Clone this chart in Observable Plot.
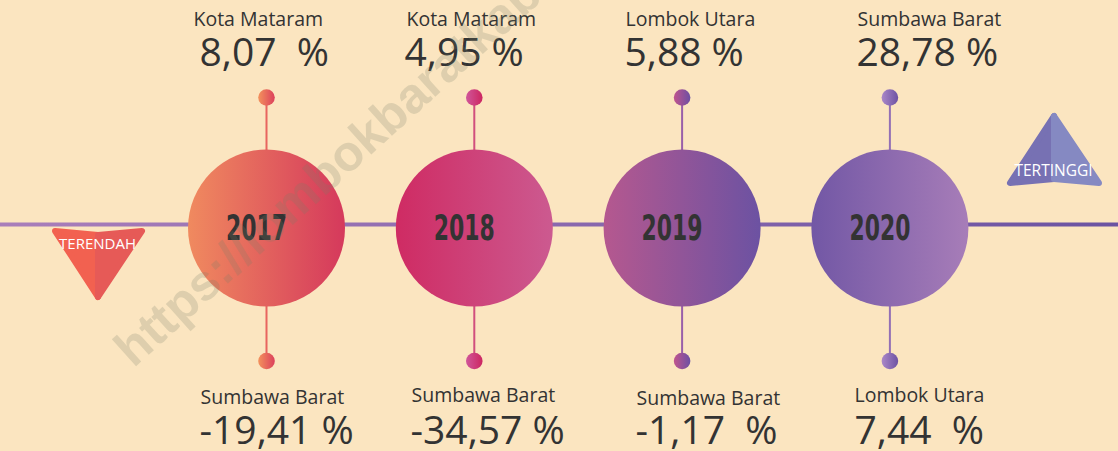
<!DOCTYPE html>
<html><head><meta charset="utf-8">
<script src="https://cdn.jsdelivr.net/npm/d3@7"></script>
<script src="https://cdn.jsdelivr.net/npm/@observablehq/plot@0.6"></script>
<style>
html,body{margin:0;padding:0;background:#fbe5c0;overflow:hidden;}
svg text{white-space:pre;}
</style></head><body><div id="chart"></div>
<script>
// ---------- data ----------
const years = [2017, 2018, 2019, 2020];
const highestRegion = ["Kota Mataram", "Kota Mataram", "Lombok Utara", "Sumbawa Barat"];
const highestValue = [8.07, 4.95, 5.88, 28.78];
const lowestRegion = ["Sumbawa Barat", "Sumbawa Barat", "Sumbawa Barat", "Lombok Utara"];
const lowestValue = [-19.41, -34.57, -1.17, 7.44];
const lowLabel = "TERENDAH";
const highLabel = "TERTINGGI";
const watermark = "https://lombokbaratkab.go.id";

// ---------- layout (pixels) ----------
const W = 1118, H = 451;
const pxPerYear = 207.8;
const x0 = 2017 - 266 / pxPerYear;
const u = 1 / pxPerYear;
const X = px => x0 + px * u;                 // pixel -> x-domain
const topLeft = [193, 406, 625, 857];
const topValLeft = [199, 404, 624, 856];
const botLeft = [200, 411, 636, 854];
const botValLeft = [199, 410, 635, 854];
const botLabelY = [403, 401, 404, 401.5];
const topGap = ["  ", " ", " ", " "];
const botGap = [" ", " ", "  ", "  "];
const stemColor = ["#e8655f", "#d14f7d", "#9a5fa9", "#9470b5"];
const circleGrad = [["#f08a5f", "#d5395c"], ["#cf2b63", "#cc5a90"], ["#b5588f", "#6c52a2"], ["#7257a5", "#a77db8"]];
const dotGrad = [["#f3925c", "#dc405c"], ["#d0569a", "#cc2660"], ["#c0548e", "#6c4fa3"], ["#ab88c8", "#6d52a3"]];
const fmt = v => v.toFixed(2).replace(".", ",");
const sans = "'Open Sans', 'Noto Sans', sans-serif";
const narrow = "'Liberation Sans Narrow', 'DejaVu Sans Condensed', 'Liberation Sans', sans-serif";

const idx = years.map((_, i) => i);

// triangles as two halves (areas)
const downL = [{x: X(55), y1: 231, y2: 231}, {x: X(98), y1: 235, y2: 297}];
const downR = [{x: X(98), y1: 235, y2: 297}, {x: X(142), y1: 231, y2: 231}];
const upL = [{x: X(1010), y1: 183, y2: 183}, {x: X(1054), y1: 116, y2: 179}];
const upR = [{x: X(1054), y1: 116, y2: 179}, {x: X(1099), y1: 183, y2: 183}];

const tri = (data, color) => Plot.areaY(data, {
  x: "x", y1: "y1", y2: "y2", fill: color, stroke: color,
  strokeWidth: 6, strokeLinejoin: "round", curve: "linear"
});

const chart = Plot.plot({
  width: W, height: H,
  margin: 0,
  style: {background: "#fbe5c0", overflow: "visible"},
  x: {type: "linear", domain: [x0, x0 + W * u], range: [0, W], axis: null},
  y: {type: "linear", domain: [0, H], range: [0, H], axis: null},
  color: {type: "identity"},
  marks: [
    Plot.ruleY([224], {stroke: "url(#tlGrad)", strokeWidth: 4}),
    Plot.ruleX(idx, {x: i => years[i], y1: 97, y2: 360, stroke: i => stemColor[i], strokeWidth: 2}),
    Plot.dot(idx, {x: i => years[i], y: 97, r: 8.3, fill: i => `url(#dg${i})`, stroke: null}),
    Plot.dot(idx, {x: i => years[i], y: 360.5, r: 8.3, fill: i => `url(#dg${i})`, stroke: null}),
    Plot.dot(idx, {x: i => years[i], y: 227.5, r: 78.5, fill: i => `url(#cg${i})`, stroke: null}),
    Plot.text(idx, {x: i => years[i], dx: -10, y: 239, text: i => String(years[i]), lineAnchor: "bottom",
      fontSize: 35, fontWeight: 700, fontFamily: narrow, fill: "#333333", className: "yearlbl"}),
    Plot.text(idx, {x: i => X(topLeft[i]), y: 25, text: i => highestRegion[i], textAnchor: "start", lineAnchor: "bottom",
      fontSize: 19.5, fontFamily: sans, fill: "#333333"}),
    Plot.text(idx, {x: i => X(topValLeft[i]), y: 65, text: i => fmt(highestValue[i]) + topGap[i] + "%", textAnchor: "start", lineAnchor: "bottom",
      fontSize: 39, fontFamily: sans, fill: "#333333"}),
    Plot.text(idx, {x: i => X(botLeft[i]), y: i => botLabelY[i], text: i => lowestRegion[i], textAnchor: "start", lineAnchor: "bottom",
      fontSize: 19.5, fontFamily: sans, fill: "#333333"}),
    Plot.text(idx, {x: i => X(botValLeft[i]), y: 443, text: i => fmt(lowestValue[i]) + botGap[i] + "%", textAnchor: "start", lineAnchor: "bottom",
      fontSize: 39, fontFamily: sans, fill: "#333333"}),
    tri(downL, "#f26150"), tri(downR, "#e65a57"),
    tri(upL, "#7771b3"), tri(upR, "#8589c2"),
    Plot.text([lowLabel], {x: X(97), y: 248.5, text: d => d, lineAnchor: "bottom", fontSize: 15, fontFamily: sans, fill: "white"}),
    Plot.text([highLabel], {x: X(1053), y: 175, text: d => d, lineAnchor: "bottom", fontSize: 15.5, fontFamily: sans, fill: "white"}),
    Plot.text([watermark], {x: X(133), y: 368, text: d => d, rotate: -42, textAnchor: "start", lineAnchor: "bottom",
      fontSize: 50, fontWeight: 700, fontFamily: "'Liberation Sans', Arial, sans-serif", fill: "#787f69", fillOpacity: 0.22})
  ]
});

const svg = d3.select(chart);
const defs = svg.insert("defs", ":first-child");
const lg = (id, c0, c1, user) => {
  const g = defs.append("linearGradient").attr("id", id);
  if (user) g.attr("gradientUnits", "userSpaceOnUse").attr("x1", 0).attr("x2", W).attr("y1", 0).attr("y2", 0);
  else g.attr("x1", "0%").attr("x2", "100%").attr("y1", "0%").attr("y2", "0%");
  g.append("stop").attr("offset", "0%").attr("stop-color", c0);
  g.append("stop").attr("offset", "100%").attr("stop-color", c1);
};
lg("tlGrad", "#a97eba", "#6b53a2", true);
idx.forEach(i => { lg(`cg${i}`, ...circleGrad[i]); lg(`dg${i}`, ...dotGrad[i]); });

// condensed year labels
svg.selectAll(".yearlbl text").attr("textLength", 61).attr("lengthAdjust", "spacingAndGlyphs");

document.getElementById("chart").appendChild(chart);
</script></body></html>
